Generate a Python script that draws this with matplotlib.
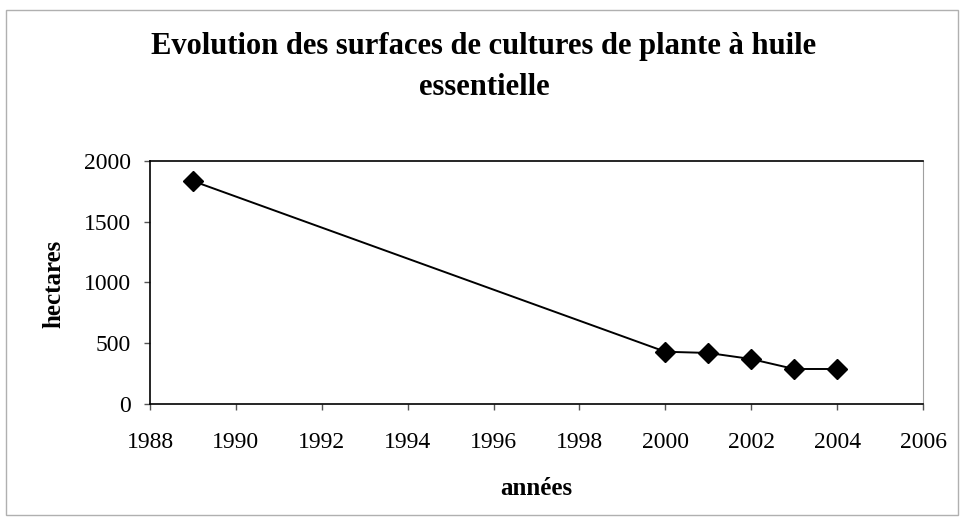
import matplotlib.pyplot as plt
from matplotlib.patches import Rectangle

annees = [1989, 2000, 2001, 2002, 2003, 2004]
hectares = [1835, 430, 420, 370, 288, 288]

plt.rcParams['font.family'] = ['Liberation Serif', 'DejaVu Serif']

fig = plt.figure(figsize=(9.64, 5.21), dpi=100)
ax = fig.add_axes([0.1556, 0.2246, 0.8019, 0.4664])

# cadre extérieur du graphique
fig.patches.append(Rectangle((0.006, 0.012), 0.988, 0.968, transform=fig.transFigure,
                             fill=False, edgecolor='#b0b0b0', linewidth=1.0))

ax.plot(annees, hectares, color='black', linewidth=1.4, marker='D', markersize=10)

ax.set_xlim(1988, 2006)
ax.set_ylim(0, 2000)
ax.set_xticks(range(1988, 2007, 2))
ax.set_yticks(range(0, 2001, 500))
ax.tick_params(labelsize=17, direction='out', length=4, width=1, color='#555555')
ax.tick_params(axis='x', pad=16)
ax.tick_params(axis='y', pad=10)

ax.spines['right'].set_color('#a0a0a0')
for s in ['left', 'bottom', 'top']:
    ax.spines[s].set_color('black')
    ax.spines[s].set_linewidth(1.2)

ax.set_xlabel("années", fontsize=18, fontweight='bold')
ax.xaxis.set_label_coords(0.5, -0.30)
fig.text(54 / 964, 1 - 284 / 521, "hectares", rotation=90, ha='center', va='center',
         fontsize=18, fontweight='bold')
fig.text(0.502, 0.872, "Evolution des surfaces de cultures de plante à huile\nessentielle",
         ha='center', va='center', fontsize=22, fontweight='bold', linespacing=1.55)

fig.savefig('out.png', dpi=100)
